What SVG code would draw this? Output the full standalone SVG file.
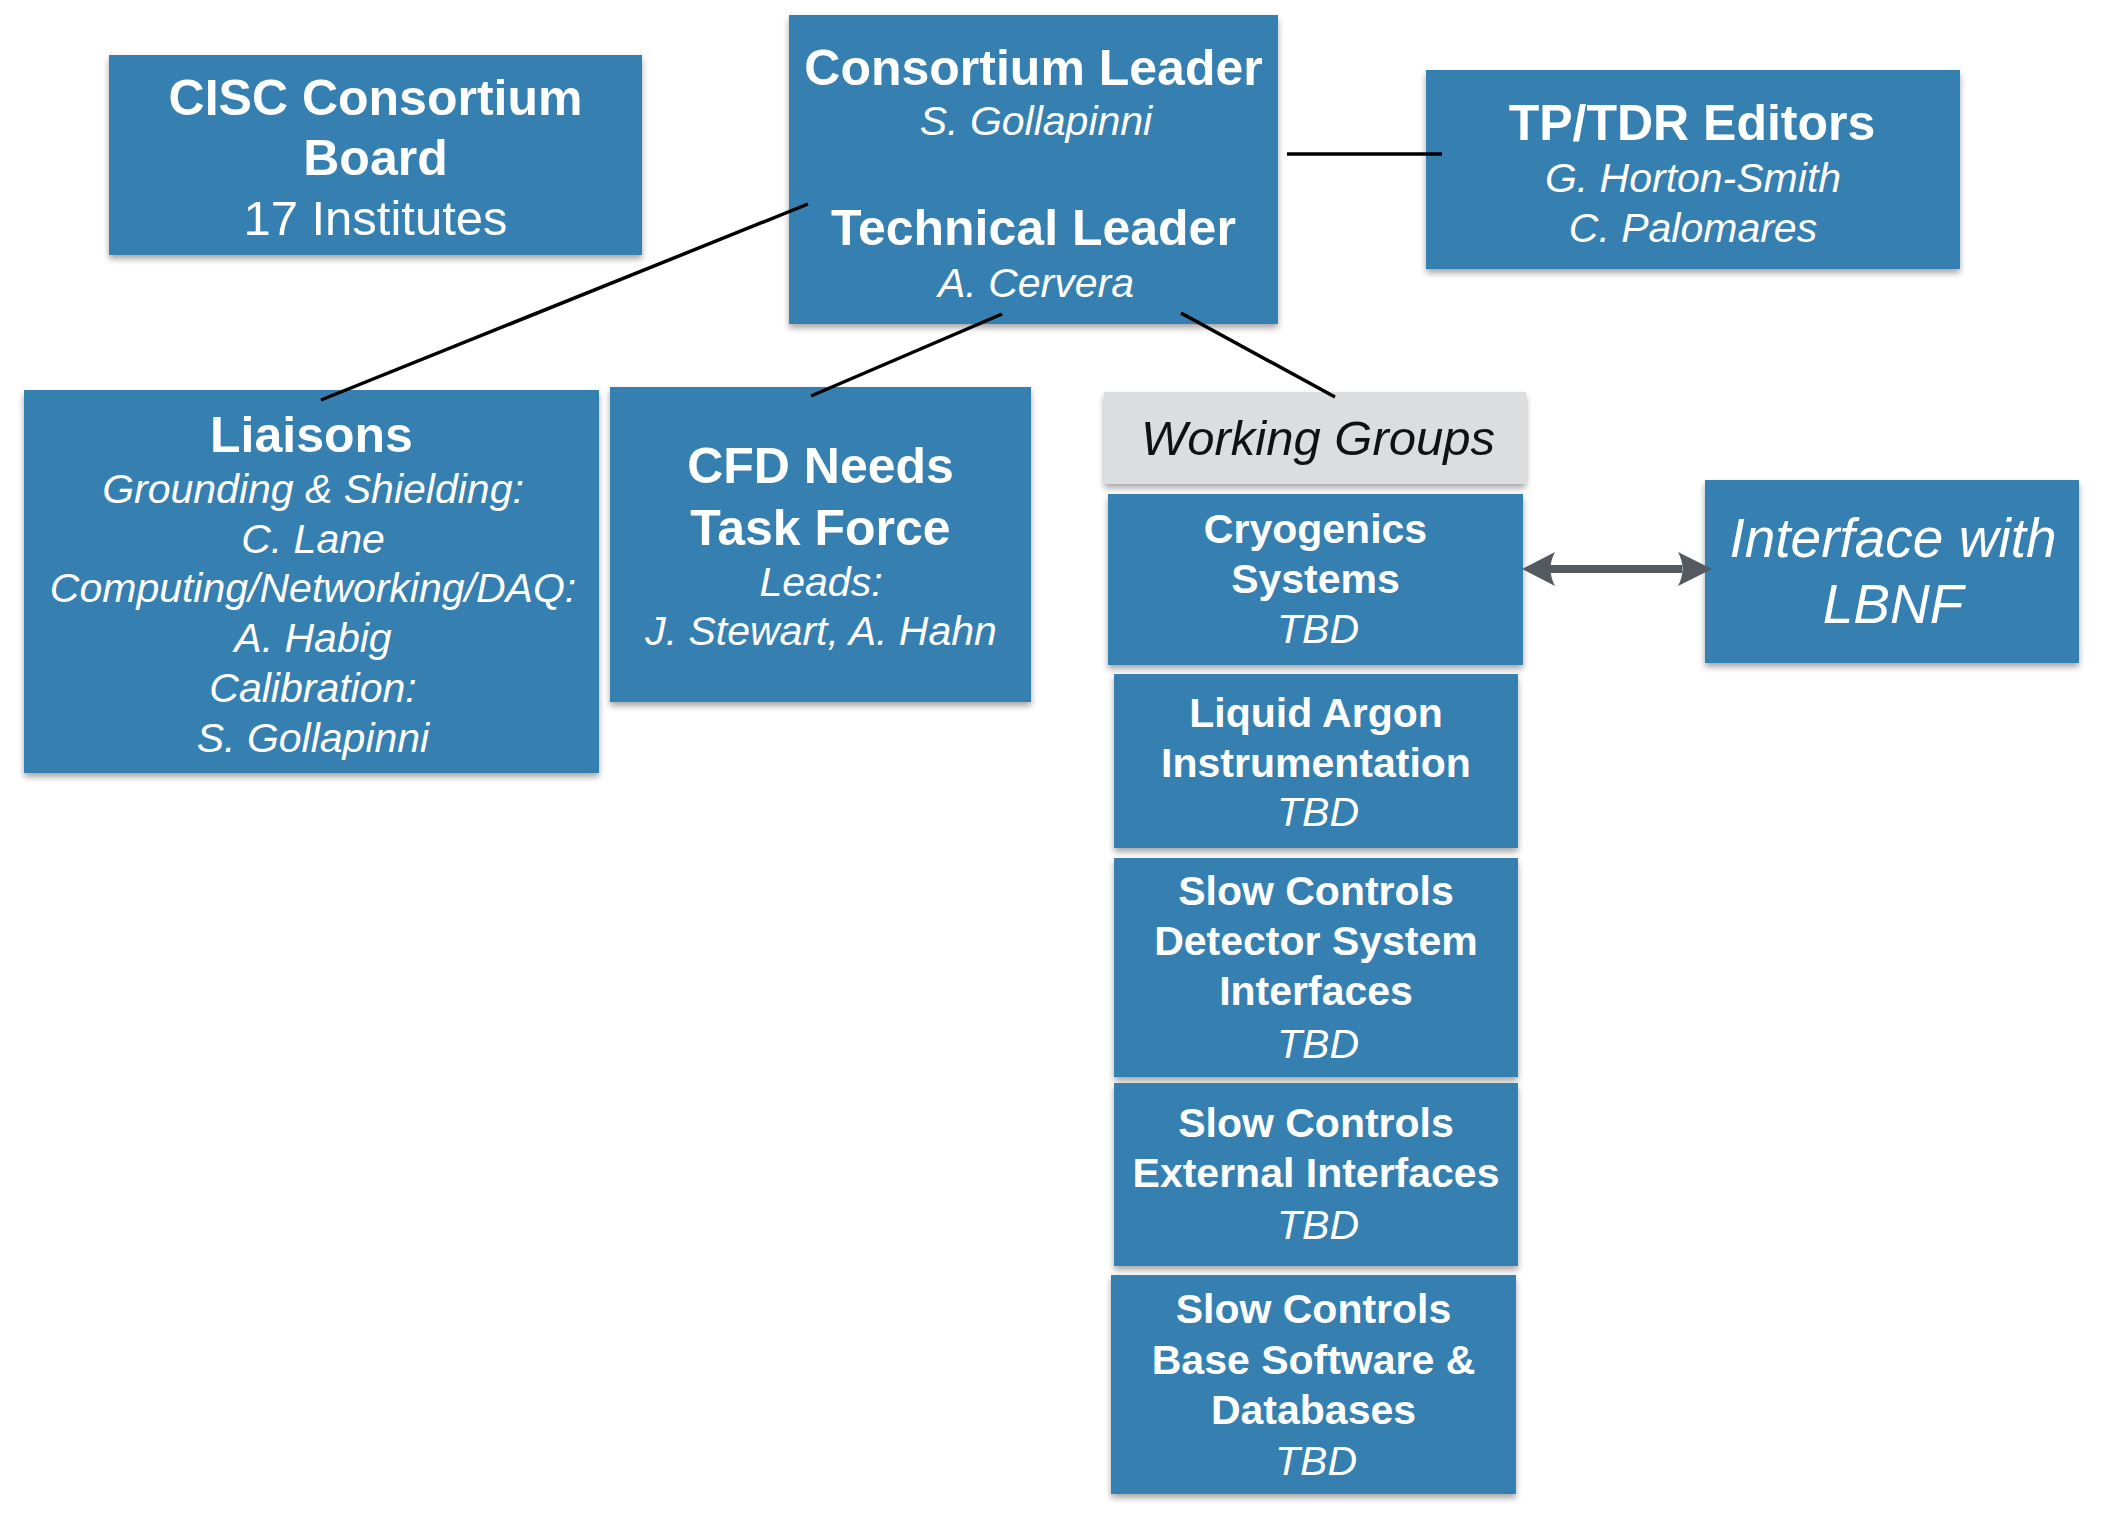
<svg xmlns="http://www.w3.org/2000/svg" width="2104" height="1518" viewBox="0 0 2104 1518">
<style>
  .box { fill: #3580b1; filter: url(#shadow); }
  .gbox { fill: #dcdddf; filter: url(#shadow); }
  text { font-family: "Liberation Sans", Arial, sans-serif; fill: #ffffff; text-anchor: middle; }
  .t { font-weight: bold; font-size: 50px; }
  .ts { font-weight: bold; font-size: 41px; }
  .s { font-style: italic; font-size: 41px; }
  .wg { font-style: italic; font-size: 49px; fill: #111111; }
  .big { font-style: italic; font-size: 55px; }
  .r { font-size: 49px; }
  .conn { stroke: #000000; stroke-width: 3.5; fill: none; stroke-linecap: butt; }
</style>
<defs>
  <filter id="shadow" x="-5%" y="-5%" width="110%" height="115%">
    <feDropShadow dx="0" dy="4" stdDeviation="3" flood-color="#000000" flood-opacity="0.35"/>
  </filter>
</defs>
<rect x="0" y="0" width="2104" height="1518" fill="#ffffff"/>

<g id="cisc-board">
  <rect class="box" x="109" y="55" width="533" height="200"/>
  <text class="t" x="375.5" y="115">CISC Consortium</text>
  <text class="t" x="375.5" y="175">Board</text>
  <text class="r" x="375.5" y="235">17 Institutes</text>
</g>

<g id="leaders">
  <rect class="box" x="789" y="15" width="489" height="309"/>
  <text class="t" x="1033.5" y="85">Consortium Leader</text>
  <text class="s" x="1036" y="135">S. Gollapinni</text>
  <text class="t" x="1033.5" y="245">Technical Leader</text>
  <text class="s" x="1036" y="297">A. Cervera</text>
</g>

<g id="editors">
  <rect class="box" x="1426" y="70" width="534" height="199"/>
  <text class="t" x="1692" y="140">TP/TDR Editors</text>
  <text class="s" x="1693" y="192">G. Horton-Smith</text>
  <text class="s" x="1693" y="242">C. Palomares</text>
</g>

<g id="liaisons">
  <rect class="box" x="24" y="390" width="575" height="383"/>
  <text class="t" x="311.5" y="452">Liaisons</text>
  <text class="s" x="313" y="503">Grounding &amp; Shielding:</text>
  <text class="s" x="313" y="553">C. Lane</text>
  <text class="s" x="313" y="602">Computing/Networking/DAQ:</text>
  <text class="s" x="313" y="652">A. Habig</text>
  <text class="s" x="313" y="702">Calibration:</text>
  <text class="s" x="313" y="752">S. Gollapinni</text>
</g>

<g id="cfd">
  <rect class="box" x="610" y="387" width="421" height="315"/>
  <text class="t" x="820.5" y="483">CFD Needs</text>
  <text class="t" x="820.5" y="545">Task Force</text>
  <text class="s" x="821" y="596">Leads:</text>
  <text class="s" x="821" y="645">J. Stewart, A. Hahn</text>
</g>

<g id="working-groups">
  <rect class="gbox" x="1104" y="392" width="422" height="92"/>
  <text class="wg" x="1318" y="455">Working Groups</text>
</g>

<g id="cryogenics">
  <rect class="box" x="1108" y="494" width="415" height="171"/>
  <text class="ts" x="1315.5" y="543">Cryogenics</text>
  <text class="ts" x="1315.5" y="593">Systems</text>
  <text class="s" x="1318" y="643">TBD</text>
</g>

<g id="lbnf">
  <rect class="box" x="1705" y="480" width="374" height="183"/>
  <text class="big" x="1893" y="557">Interface with</text>
  <text class="big" x="1893" y="623">LBNF</text>
</g>

<g id="lar-instr">
  <rect class="box" x="1114" y="674" width="404" height="174"/>
  <text class="ts" x="1316" y="727">Liquid Argon</text>
  <text class="ts" x="1316" y="777">Instrumentation</text>
  <text class="s" x="1318" y="826">TBD</text>
</g>

<g id="sc-detector">
  <rect class="box" x="1114" y="858" width="404" height="219"/>
  <text class="ts" x="1316" y="905">Slow Controls</text>
  <text class="ts" x="1316" y="955">Detector System</text>
  <text class="ts" x="1316" y="1005">Interfaces</text>
  <text class="s" x="1318" y="1058">TBD</text>
</g>

<g id="sc-external">
  <rect class="box" x="1114" y="1083" width="404" height="183"/>
  <text class="ts" x="1316" y="1137">Slow Controls</text>
  <text class="ts" x="1316" y="1187">External Interfaces</text>
  <text class="s" x="1318" y="1239">TBD</text>
</g>

<g id="sc-software">
  <rect class="box" x="1111" y="1275" width="405" height="219"/>
  <text class="ts" x="1313.5" y="1323">Slow Controls</text>
  <text class="ts" x="1313.5" y="1374">Base Software &amp;</text>
  <text class="ts" x="1313.5" y="1424">Databases</text>
  <text class="s" x="1316" y="1475">TBD</text>
</g>

<g id="connectors">
  <line class="conn" x1="1287" y1="154" x2="1442" y2="154"/>
  <line class="conn" x1="808" y1="204" x2="321" y2="400"/>
  <line class="conn" x1="1002" y1="314" x2="811" y2="396"/>
  <line class="conn" x1="1181" y1="313" x2="1335" y2="397"/>
  <g id="lbnf-arrow" fill="#555a61">
    <rect x="1546" y="565" width="136" height="8"/>
    <path d="M1522,569 L1555,552 Q1546,569 1555,586 Z"/>
    <path d="M1712,569 L1678,552 Q1687,569 1678,586 Z"/>
  </g>
</g>
</svg>
